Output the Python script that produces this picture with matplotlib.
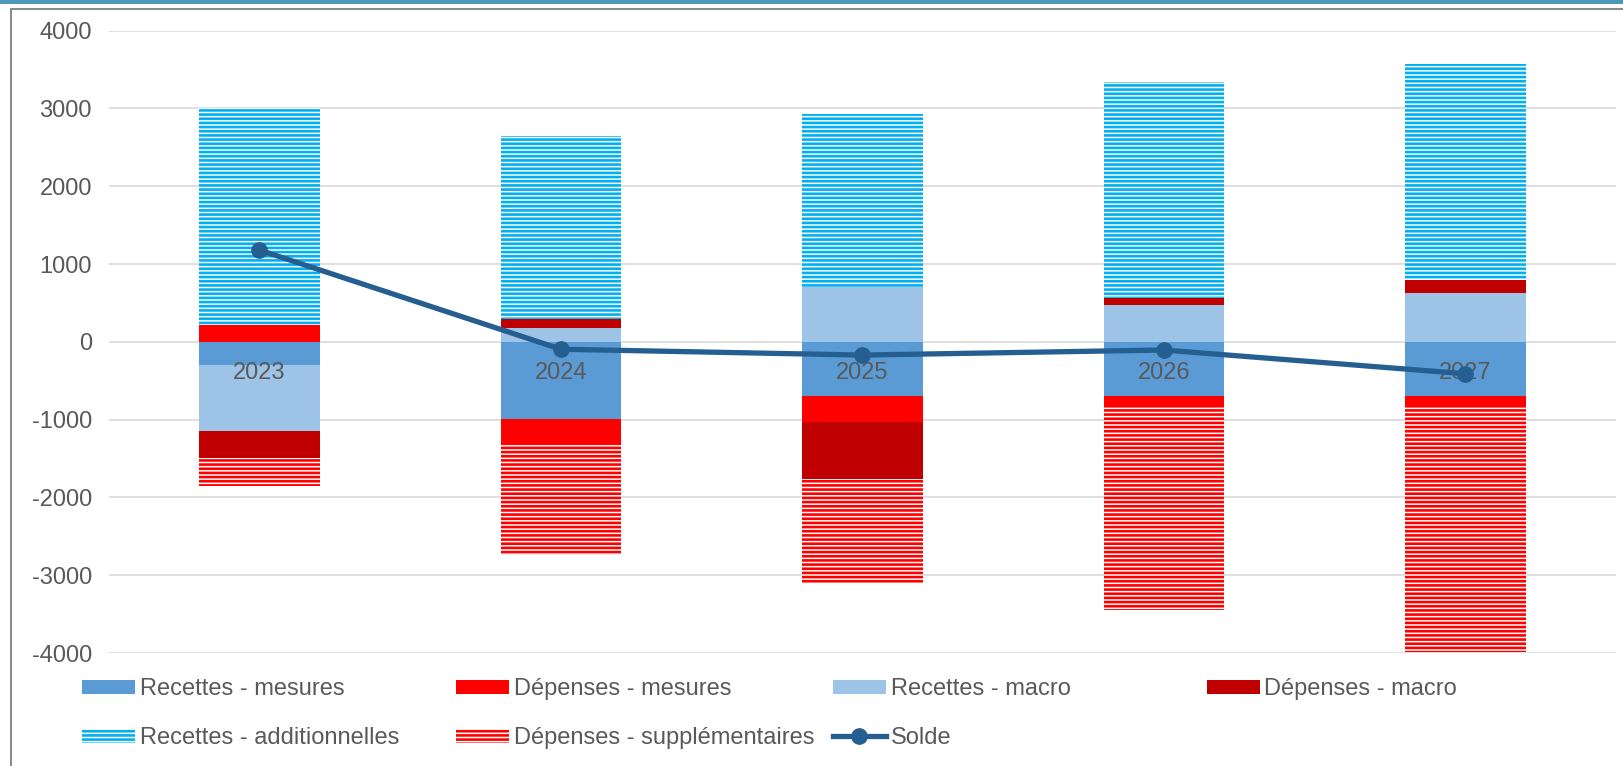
#! /usr/bin/env python3

import numpy as np
from matplotlib import pyplot as plt
from matplotlib.patches import Rectangle, Patch
from matplotlib.lines import Line2D

plt.rcParams.update({'font.size': 17, 'font.family': ['Liberation Sans', 'DejaVu Sans'],
                     'hatch.linewidth': 1.9, 'axes.unicode_minus': False})

years = ['2023', '2024', '2025', '2026', '2027']
recettes_mesures = [-300, -990, -700, -700, -700]
depenses_mesures = [220, -340, -330, -115, -115]
recettes_macro = [-850, 180, 707, 480, 630]
depenses_macro = [-340, 110, -729, 80, 170]
recettes_add = [2790, 2360, 2220, 2780, 2770]
depenses_supp = [-360, -1410, -1360, -2630, -3170]
solde = [1180, -95, -170, -105, -410]

txt = '#595959'
series = [
    ('Recettes - mesures', recettes_mesures, '#5B9BD5', None),
    ('Dépenses - mesures', depenses_mesures, '#FF0000', None),
    ('Recettes - macro', recettes_macro, '#9DC3E6', None),
    ('Dépenses - macro', depenses_macro, '#C00000', None),
    ('Recettes - additionnelles', recettes_add, '#00B0F0', '----'),
    ('Dépenses - supplémentaires', depenses_supp, '#FF0000', '----'),
]

fig = plt.figure(figsize=(16.24, 7.66), dpi=100)
ax = fig.add_axes([108.7 / 1624, 1 - 653 / 766, (1616 - 108.7) / 1624, (653 - 30.7) / 766])

x = np.arange(len(years))
pos = np.zeros(len(years))
neg = np.zeros(len(years))
handles = []
for name, vals, col, hatch in series:
    vals = np.array(vals, dtype=float)
    bottom = np.where(vals >= 0, pos, neg)
    if hatch:
        ax.bar(x, vals, 0.4, bottom=bottom, facecolor='white', edgecolor=col,
               hatch=hatch, linewidth=0, zorder=2)
        handles.append(Patch(facecolor='white', edgecolor=col, hatch=hatch, linewidth=0))
    else:
        ax.bar(x, vals, 0.4, bottom=bottom, color=col, linewidth=0, zorder=2)
        handles.append(Patch(facecolor=col, linewidth=0))
    pos = pos + np.where(vals >= 0, vals, 0)
    neg = neg + np.where(vals < 0, vals, 0)

ax.plot(x, solde, '-o', color='#255E91', lw=3.8, ms=11, zorder=4)
handles.append(Line2D([], [], color='#255E91', lw=3.8, marker='o', ms=11))

for i, y in enumerate(years):
    ax.annotate(y, (i, 0), xytext=(0, -22.5), textcoords='offset points',
                ha='center', va='center', color=txt, zorder=3)

ax.set_xlim(-0.5, 4.5)
ax.set_ylim(-4000, 4000)
ax.set_yticks(np.arange(-4000, 4001, 1000))
ax.set_xticks([])
ax.tick_params(axis='y', length=0, pad=12, colors=txt, labelsize=17)
ax.grid(axis='y', color='#D9D9D9', lw=1.2, zorder=0)
ax.set_axisbelow(True)
for s in ax.spines.values():
    s.set_visible(False)

# legend, one small legend per entry so columns line up like the original
labels = [s[0] for s in series] + ['Solde']
col_x = [81.8, 455.7, 832.7, 1206.6]
row_y = [689, 738]
slots = [(0, 0), (1, 0), (2, 0), (3, 0), (0, 1), (1, 1), (2, 1)]
for h, lab, (c, r) in zip(handles, labels, slots):
    fig.legend([h], [lab], loc='center left',
               bbox_to_anchor=(col_x[c] / 1624, 1 - row_y[r] / 766),
               frameon=False, borderpad=0, borderaxespad=0, handlelength=2.25,
               handleheight=0.55, handletextpad=0.2, labelcolor=txt, fontsize=17)

# outer frame and top band
fig.patches.append(Rectangle((11 / 1624, -0.1), 1.2, 1.088,
                             transform=fig.transFigure, fill=False, edgecolor='#8C8C8C', lw=1.5))
fig.patches.append(Rectangle((0, 1 - 3.5 / 766), 1, 3.5 / 766, transform=fig.transFigure,
                             color='#4A9AB6', lw=0))

fig.savefig('out.png', dpi=100)
